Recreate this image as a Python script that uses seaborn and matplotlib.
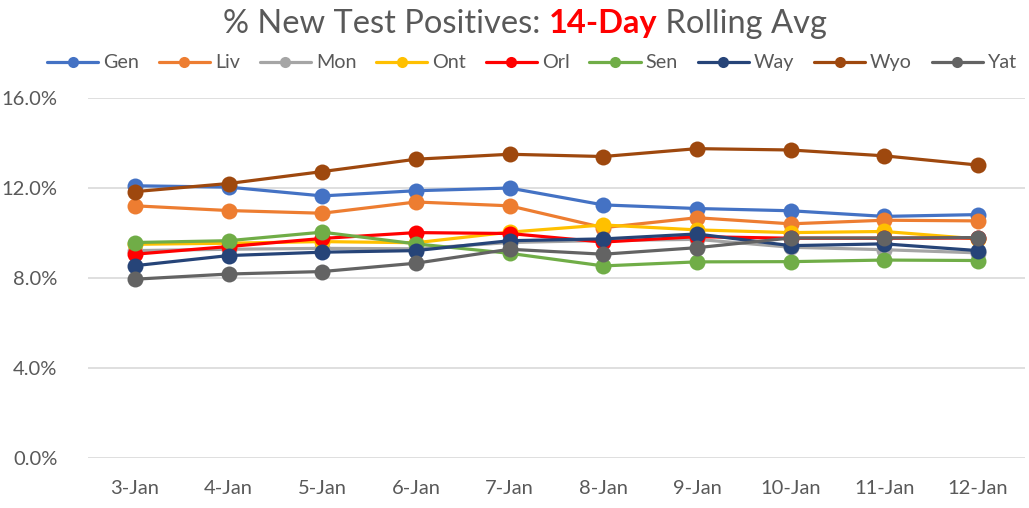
import matplotlib
matplotlib.use("Agg")
import matplotlib.pyplot as plt
from matplotlib.lines import Line2D
from matplotlib.ticker import FuncFormatter, FixedLocator
import seaborn as sns
import pandas as pd

dates = ["3-Jan", "4-Jan", "5-Jan", "6-Jan", "7-Jan", "8-Jan", "9-Jan", "10-Jan", "11-Jan", "12-Jan"]
gen = [12.08, 12.02, 11.63, 11.86, 11.98, 11.23, 11.07, 10.97, 10.72, 10.80]
liv = [11.19, 10.98, 10.86, 11.36, 11.19, 10.22, 10.66, 10.39, 10.55, 10.52]
mon = [9.20, 9.26, 9.30, 9.28, 9.56, 9.65, 9.70, 9.35, 9.24, 9.10]
ont = [9.48, 9.53, 9.60, 9.55, 10.02, 10.34, 10.12, 10.00, 10.05, 9.72]
orl = [9.04, 9.38, 9.74, 10.00, 9.96, 9.58, 9.82, 9.75, 9.75, 9.76]
sen = [9.56, 9.64, 10.02, 9.50, 9.08, 8.52, 8.70, 8.71, 8.78, 8.76]
way = [8.53, 8.98, 9.13, 9.20, 9.64, 9.72, 9.94, 9.42, 9.50, 9.20]
wyo = [11.82, 12.18, 12.71, 13.26, 13.48, 13.38, 13.73, 13.67, 13.41, 13.00]
yat = [7.93, 8.16, 8.27, 8.64, 9.26, 9.04, 9.33, 9.76, 9.76, 9.78]

series_names = ["Gen", "Liv", "Mon", "Ont", "Orl", "Sen", "Way", "Wyo", "Yat"]
series_values = [gen, liv, mon, ont, orl, sen, way, wyo, yat]
colors = ["#4472C4", "#ED7D31", "#A5A5A5", "#FFC000", "#FF0000",
          "#70AD47", "#264478", "#9E480E", "#636363"]

rows = []
for name, vals in zip(series_names, series_values):
    for d, v in zip(dates, vals):
        rows.append({"date": d, "county": name, "value": v})
df = pd.DataFrame(rows)

sns.set_style("white")
FONT = ["Lato", "DejaVu Sans"]
plt.rcParams["font.family"] = FONT
TXT = "#595959"

fig = plt.figure(figsize=(10.29, 5.08), dpi=100)
ax = fig.add_axes([0.0855, 0.099, 0.9105, 0.709])

palette = dict(zip(series_names, colors))
sns.lineplot(data=df, x="date", y="value", hue="county", hue_order=series_names,
             palette=palette, marker="o", markersize=11.5, markeredgewidth=0,
             linewidth=2.3, ax=ax, legend=False, sort=False)

ax.set_xlim(-0.5, len(dates) - 0.5)
ax.set_ylim(0, 16)
ax.yaxis.set_major_locator(FixedLocator([0, 4, 8, 12, 16]))
ax.yaxis.set_major_formatter(FuncFormatter(lambda v, p: f"{v:.1f}%"))
ax.grid(axis="y", color="#D9D9D9", linewidth=1.2)
ax.grid(axis="x", visible=False)
ax.set_axisbelow(True)
for s in ax.spines.values():
    s.set_visible(False)
ax.set_xlabel("")
ax.set_ylabel("")
ax.tick_params(axis="both", length=0, labelsize=14.5, labelcolor=TXT)
ax.tick_params(axis="y", pad=22)
ax.tick_params(axis="x", pad=16)

# legend
handles = [Line2D([0], [0], color=c, linewidth=2.3, marker="o", markersize=8,
                  markeredgewidth=0) for c in colors]
fig.legend(handles, series_names, loc="center", bbox_to_anchor=(0.517, 0.876),
           ncol=9, frameon=False, fontsize=14.2, handlelength=2.6,
           handletextpad=0.25, columnspacing=1.0, labelcolor=TXT)

# title with colored part
parts = [("% New Test Positives: ", TXT, "normal"),
         ("14-Day", "#FF0000", "bold"),
         (" Rolling Avg", TXT, "normal")]
fs = 23.5
texts = []
for t, c, w in parts:
    texts.append(fig.text(0, 0.953, t, color=c, fontweight=w, fontsize=fs,
                          va="center", ha="left"))
fig.canvas.draw()
r = fig.canvas.get_renderer()
widths = [tx.get_window_extent(r).width for tx in texts]
total = sum(widths)
x = (fig.bbox.width * 0.51 - total / 2)
for tx, w in zip(texts, widths):
    tx.set_x(x / fig.bbox.width)
    x += w

fig.savefig("out.png", dpi=100)
